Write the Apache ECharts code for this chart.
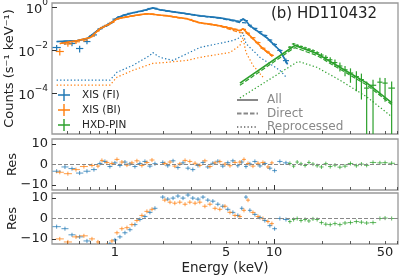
<!DOCTYPE html>
<html><head><meta charset="utf-8">
<script src="https://cdn.jsdelivr.net/npm/echarts@6/dist/echarts.min.js"></script>
<style>html,body{margin:0;padding:0;background:#fff}#c{width:399px;height:277px}</style>
</head><body><div id="c"></div>
<script>
// ---------------- DATA ----------------
// Models (keV, counts s^-1 keV^-1)
const fiModelE = [0.43,0.58,0.667,0.805,0.93,1.03,1.16,1.30,1.50,1.73,1.92,2.12,2.84,3.42,4.57,6.11,6.38,6.67,7.06,9.03,10.9,12.2];
const fiAll    = [0.0246,0.0274,0.0338,0.0974,0.165,0.312,0.43,0.53,0.66,0.90,0.73,0.655,0.48,0.386,0.312,0.204,0.28,0.227,0.134,0.0376,0.0095,0.00215];
const fiDirect = [0.0242,0.027,0.0333,0.096,0.164,0.308,0.425,0.52,0.65,0.88,0.72,0.645,0.47,0.375,0.30,0.185,0.185,0.18,0.125,0.0355,0.0092,0.0021];
const fiReprE  = [0.43,0.93,1.03,1.30,1.66,1.73,1.92,2.32,3.42,5.52,6.11,6.38,6.67,8.17,10.9,12.1];
const fiRepr   = [0.000396,0.000396,0.000925,0.00194,0.00559,0.00767,0.00452,0.00329,0.013,0.0274,0.0376,0.0638,0.0199,0.00452,0.00114,0.00049];

const biModelE = [0.45,0.58,0.70,0.805,0.93,1.03,1.30,1.59,2.12,2.84,3.42,4.57,6.11,6.38,6.67,7.06,8.53,9.71];
const biAll    = [0.0199,0.0274,0.0376,0.0974,0.165,0.28,0.386,0.48,0.386,0.28,0.184,0.134,0.0788,0.0974,0.071,0.0464,0.0117,0.00559];
const biDirect = [0.0197,0.0271,0.0372,0.096,0.163,0.276,0.38,0.472,0.38,0.275,0.179,0.127,0.063,0.063,0.062,0.044,0.011,0.0052];
const biReprE  = [0.43,0.93,1.03,1.30,1.73,2.12,2.84,3.42,5.29,6.11,6.38,6.67,7.38,8.53];
const biRepr   = [0.000235,0.000235,0.000544,0.00114,0.00239,0.00266,0.00329,0.00452,0.00767,0.0161,0.0376,0.00767,0.00194,0.000544];

const pinModelE = [6.11,12.97,13.55,18.6,26.0,38.5,55.2];
const pinAll    = [0.000288,0.0130,0.0161,0.0069,0.00157,0.000288,3.47e-5];
const pinDirect = [0.00023,0.0105,0.0128,0.0056,0.00128,0.000235,2.85e-5];
const pinReprE  = [6.11,14.2,18.6,26.0,38.5,55.2];
const pinRepr   = [5.89e-5,0.00296,0.00157,0.000396,6.55e-5,7.88e-6];

// Data points: XIS (FI)
const fiE      = [0.43,0.485,0.537,0.60,0.667,0.738, 0.805,0.865,0.93,1.0,1.075,1.156,1.243,1.336,1.436,1.544,1.66,1.785, 2.0,2.15,2.32,2.49,2.68,2.88,3.09,3.33,3.58,3.84,4.13,4.44,4.77,5.13,5.52,5.93, 6.28,6.67,7.06, 7.59,8.17,8.77,9.43,10.1,10.9,11.9];
const fiCounts = [0.013,0.022,0.020,0.0117,0.0246,0.05, 0.095,0.125,0.17,0.27,0.35,0.42,0.50,0.55,0.62,0.70,0.84,0.86, 0.70,0.64,0.60,0.55,0.51,0.47,0.44,0.40,0.37,0.35,0.33,0.31,0.29,0.265,0.24,0.215, 0.25,0.23,0.14, 0.10,0.07,0.047,0.029,0.018,0.0095,0.0032];
const fiErr    = [0.004,0.005,0.005,0.004,0.006,0.009, 0.008,0.009,0.011,0.014,0.016,0.018,0.02,0.021,0.022,0.024,0.027,0.028, 0.024,0.022,0.021,0.02,0.019,0.018,0.017,0.016,0.015,0.014,0.014,0.013,0.012,0.012,0.011,0.011,0.012,0.012,0.009,0.007,0.006,0.005,0.0035,0.0025,0.0015,0.0008];
const fiRes1   = [-3.3,-1.2,-2.0,-4.2,-3.3,-2.5, 0.5,1.5,-1.0,0.8,-0.5,1.2,0.3,-1.0,0.5,1.5,-0.8,0.4, 1.0,-0.6,1.8,-1.5,0.8,-1.8,-2.5,-0.5,1.0,-1.2,0.6,1.6,-0.8,0.9,1.8,-0.6,1.2,-1.0,0.3,1.5,-0.7,0.5,-1.8,-3.0,1.5,0.8];
const fiRes2   = [-4,-5,-8,-9,-11,-14, -15,-14,-12.5,-10.5,-9,-7,-5.5,-3,-0.5,1,3,5, 10.5,9.5,10,11,10,11.5,10,9.5,10.5,9,8.5,7,6,4.5,3,1.5, 5,10.5,4, 2,0.5,-1,-3.5,-5,0,-0.5];

// Data points: XIS (BI)
const biE      = [0.45,0.506,0.569,0.638,0.717,0.782, 0.828,0.89,0.957,1.03,1.106,1.19,1.279,1.375,1.478,1.589,1.71, 2.06,2.22,2.38,2.56,2.76,2.96,3.19,3.42,3.68,3.96,4.26,4.57,4.92,5.29,5.69, 6.11,6.48,6.87, 7.38,7.94,8.53,9.17,9.71];
const biCounts = [0.0085,0.019,0.024,0.029,0.045,0.078, 0.11,0.14,0.19,0.27,0.32,0.35,0.38,0.41,0.45,0.48,0.47, 0.40,0.37,0.34,0.31,0.29,0.26,0.21,0.185,0.17,0.16,0.145,0.134,0.12,0.105,0.092, 0.08,0.09,0.06, 0.037,0.022,0.012,0.008,0.0056];
const biErr    = [0.003,0.005,0.005,0.005,0.007,0.01, 0.01,0.011,0.013,0.015,0.016,0.017,0.017,0.018,0.019,0.02,0.02, 0.018,0.017,0.016,0.015,0.014,0.013,0.011,0.01,0.0095,0.009,0.0085,0.008,0.0075,0.007,0.0065, 0.006,0.0065,0.005, 0.0035,0.0025,0.0015,0.0012,0.0009];
const biRes1   = [-3.8,-4.5,-2.5,-1.0,-0.5,-0.8, 2.0,1.0,0.5,2.5,1.2,-0.3,0.8,1.8,-0.5,1.0,2.2, 0.5,1.2,-0.8,0.3,2.0,1.5,0.6,-0.4,1.8,-1.0,0.8,1.4,0.2,-0.6,1.0, 1.2,2.5,0.5, -0.8,0.6,1.0,-1.2,0.8];
const biRes2   = [-10,-11.5,-9,-8.5,-10,-11.5, -14,-13,-11,-7,-5,-4.5,-3,-1,1.5,3.5,4.5, 9,8,7.5,8,7,8,7.5,8,6,7,5,4.5,6,3,1.5, 1,4,9, 3,1,0,-1.5,-2.5];

// Data points: HXD-PIN
const pinE      = [12.6,13.3,14.0,14.8,15.7,16.6,17.6,18.7,19.9,21.2,22.6,24.2,26.0,28.0,30.3,33.0,35.5,38.3,42.0,46.4,50.0,55.0];
const pinCounts = [0.0135,0.019,0.0165,0.0145,0.0125,0.0108,0.0092,0.0074,0.0058,0.0045,0.0035,0.0026,0.0018,0.0012,0.00085,0.00058,0.00042,0.00017,0.00023,0.00032,0.00029,0.00017];
const pinLo     = [0.0118,0.0170,0.0148,0.0128,0.0108,0.0092,0.0077,0.006,0.0045,0.0033,0.0024,0.0016,0.001,0.0006,0.0003,0.00012,0.00005,0,0,0.00008,0.00004,0];
const pinHi     = [0.0152,0.021,0.0182,0.0162,0.0142,0.0124,0.0107,0.0088,0.0071,0.0057,0.0046,0.0036,0.0026,0.0018,0.0014,0.00104,0.0008,0.00034,0.00042,0.00052,0.00050,0.00034];
const pinRes1   = [0.5,-0.8,1.2,0.3,-0.5,1.0,0.2,-0.6,-1.2,0.4,-1.0,-0.3,-1.3,-0.8,0.5,-0.6,0.2,-0.4,1.0,0.8,0.9,0.6];
const pinRes2   = [-1.5,-0.5,0,-1,-0.5,-1.2,-0.2,-0.5,-2,-2.8,-3,-2.5,-3,-2.2,-2,-1.5,-1.8,-2.2,-2,0,0.2,0];

// Axis ticks
const xMajorTicks = [1, 10];
const xMinorTicks = [0.5,0.6,0.7,0.8,0.9,2,3,4,5,6,7,8,9,20,30,40,50,60];
const xTickLabels = [1, 5, 10, 50];
const yTopTicks = [1e-4, 1e-2, 1];
const resTicks = [-10, 0, 10];

// ---------------- CHART ----------------
const L = v => Math.log10(v);
const FONT = 'DejaVu Sans';
const C_FI = '#1f77b4', C_BI = '#ff7f0e', C_PIN = '#2ca02c';
const X_MIN = L(0.402), X_MAX = L(60.3);
const Y_MIN = -5.9, Y_MAX = 0.18;

function binHalf(E, i) {
  const dl = i > 0 ? L(E[i]) - L(E[i-1]) : Infinity;
  const dr = i < E.length-1 ? L(E[i+1]) - L(E[i]) : Infinity;
  return Math.min(dl, dr) / 2;
}
function logSafe(v){ return v > 0 ? L(v) : -12; }

function topPoints(E, cts, lo, hi) {
  return E.map((e, i) => [L(e), L(cts[i]), L(e) - binHalf(E,i), L(e) + binHalf(E,i), logSafe(lo[i]), logSafe(hi[i])]);
}
function resPoints(E, res) {
  return E.map((e, i) => [L(e), res[i], L(e) - binHalf(E,i), L(e) + binHalf(E,i), res[i] - 1, res[i] + 1]);
}
const fiLo = fiCounts.map((c,i)=>c-fiErr[i]), fiHi = fiCounts.map((c,i)=>c+fiErr[i]);
const biLo = biCounts.map((c,i)=>c-biErr[i]), biHi = biCounts.map((c,i)=>c+biErr[i]);

function crossItem(lw, op) {
  return function(params, api) {
    const l = api.coord([api.value(2), api.value(1)]);
    const r = api.coord([api.value(3), api.value(1)]);
    const b = api.coord([api.value(0), api.value(4)]);
    const t = api.coord([api.value(0), api.value(5)]);
    const style = { stroke: api.visual('color'), lineWidth: lw, opacity: op };
    return { type: 'group', children: [
      { type: 'line', shape: { x1: l[0], y1: l[1], x2: r[0], y2: r[1] }, style },
      { type: 'line', shape: { x1: b[0], y1: b[1], x2: t[0], y2: t[1] }, style }
    ]};
  };
}

function pts(E, V) { return E.map((e,i)=>[L(e), L(V[i])]); }

function modelLine(name, E, V, color, type, width, z) {
  return { name, type: 'line', xAxisIndex: 0, yAxisIndex: 0, data: pts(E, V), symbol: 'none',
           lineStyle: { color, width, type }, itemStyle: { color }, z, silent: true, clip: true };
}
function crossSeries(name, data, color, grid, lw, op, z) {
  return { name, type: 'custom', xAxisIndex: grid*2, yAxisIndex: grid, data, clip: true,
           itemStyle: { color }, renderItem: crossItem(lw, op), z, silent: true };
}

const DOT = [1.3, 2.2], DASH = [4.5, 2];

const xAxes = [];
for (let g = 0; g < 3; g++) {
  xAxes.push({
    gridIndex: g, type: 'value', min: X_MIN, max: X_MAX, position: 'bottom',
    axisLine: { show: false, onZero: false }, splitLine: { show: false },
    axisTick: { show: true, inside: true, length: 5, lineStyle: { color: '#333', width: 1 }, customValues: xMajorTicks.map(L) },
    axisLabel: { show: g === 2, customValues: xTickLabels.map(L), margin: 2, color: '#222', fontSize: 13, fontFamily: FONT,
                 formatter: v => String(Math.round(Math.pow(10, v))) },
    name: g === 2 ? 'Energy (keV)' : '', nameLocation: 'middle', nameGap: 17, nameMoveOverlap: false,
    nameTextStyle: { fontSize: 13.5, color: '#222', fontFamily: FONT }
  });
  xAxes.push({
    gridIndex: g, type: 'value', min: X_MIN, max: X_MAX, position: 'bottom',
    axisLine: { show: false, onZero: false }, splitLine: { show: false }, axisLabel: { show: false },
    axisTick: { show: true, inside: true, length: 3, lineStyle: { color: '#333', width: 0.8 }, customValues: xMinorTicks.map(L) }
  });
}

const supMap = { '0': '0', '-2': '−2', '-4': '−4' };
const yAxes = [
  { gridIndex: 0, type: 'value', min: Y_MIN, max: Y_MAX, position: 'left',
    axisLine: { show: false, onZero: false }, splitLine: { show: false },
    axisTick: { show: true, inside: true, length: 5, lineStyle: { color: '#333' }, customValues: yTopTicks.map(L) },
    axisLabel: { customValues: yTopTicks.map(L), margin: 4,
      formatter: v => '{b|10}{s|' + supMap[String(Math.round(v))] + '}',
      rich: { b: { fontSize: 13, color: '#222', fontFamily: FONT, verticalAlign: 'bottom', lineHeight: 18 },
              s: { fontSize: 9, color: '#222', fontFamily: FONT, verticalAlign: 'top', lineHeight: 18 } } },
    name: 'Counts (s⁻¹ keV⁻¹)', nameLocation: 'middle', nameGap: 36, nameMoveOverlap: false,
    nameTextStyle: { fontSize: 13, color: '#222', fontFamily: FONT } },
];
for (let g = 1; g < 3; g++) {
  yAxes.push({ gridIndex: g, type: 'value', min: -12.5, max: 12.5, position: 'left',
    axisLine: { show: false, onZero: false }, splitLine: { show: false },
    axisTick: { show: true, inside: true, length: 4, lineStyle: { color: '#333' }, customValues: resTicks },
    axisLabel: { customValues: resTicks, margin: 4, color: '#222', fontSize: 13, fontFamily: FONT,
      formatter: v => v < 0 ? '−' + Math.abs(v) : String(v) },
    name: 'Res', nameLocation: 'middle', nameGap: 33, nameMoveOverlap: false,
    nameTextStyle: { fontSize: 13, color: '#222', fontFamily: FONT } });
}

const gridBase = { left: 52, width: 346, show: true, borderColor: '#999', borderWidth: 1.3,
                   backgroundColor: 'transparent', containLabel: false, outerBoundsMode: 'none' };
const PLUS = 'path://M5.3,0h1.4v5.3h5.3v1.4h-5.3v5.3h-1.4v-5.3h-5.3v-1.4h5.3z';
const HIDE = { color: 'rgba(0,0,0,0)', borderColor: 'rgba(0,0,0,0)', borderWidth: 0 };

const series = [
  // reprocessed (dotted)
  modelLine('fiRepr', fiReprE, fiRepr, C_FI, DOT, 1.2, 2),
  modelLine('biRepr', biReprE, biRepr, C_BI, DOT, 1.2, 2),
  modelLine('pinRepr', pinReprE, pinRepr, C_PIN, DOT, 1.2, 2),
  // direct (dashed)
  modelLine('fiDirect', fiModelE, fiDirect, C_FI, DASH, 1.2, 3),
  modelLine('biDirect', biModelE, biDirect, C_BI, DASH, 1.2, 3),
  modelLine('pinDirect', pinModelE, pinDirect, C_PIN, DASH, 1.2, 3),
  // data
  crossSeries('XIS (FI)', topPoints(fiE, fiCounts, fiLo, fiHi), C_FI, 0, 1.2, 1, 4),
  crossSeries('XIS (BI)', topPoints(biE, biCounts, biLo, biHi), C_BI, 0, 1.2, 1, 4),
  crossSeries('HXD-PIN', topPoints(pinE, pinCounts, pinLo, pinHi), C_PIN, 0, 1.2, 1, 4),
  // all (solid)
  modelLine('fiAll', fiModelE, fiAll, C_FI, 'solid', 1.6, 5),
  modelLine('biAll', biModelE, biAll, C_BI, 'solid', 1.6, 5),
  modelLine('pinAll', pinModelE, pinAll, C_PIN, 'solid', 1.6, 5),
  // legend entries for line styles
  { name: 'All', type: 'line', xAxisIndex: 0, yAxisIndex: 0, data: [], symbol: 'none', itemStyle: HIDE, lineStyle: { color: '#888', width: 1.3, type: 'solid' } },
  { name: 'Direct', type: 'line', xAxisIndex: 0, yAxisIndex: 0, data: [], symbol: 'none', itemStyle: HIDE, lineStyle: { color: '#888', width: 1.3, type: DASH } },
  { name: 'Reprocessed', type: 'line', xAxisIndex: 0, yAxisIndex: 0, data: [], symbol: 'none', itemStyle: HIDE, lineStyle: { color: '#888', width: 1.3, type: DOT } },
];
for (let g = 1; g < 3; g++) {
  series.push({ name: 'zero' + g, type: 'line', xAxisIndex: g*2, yAxisIndex: g, data: [], symbol: 'none', silent: true,
    markLine: { symbol: 'none', silent: true, label: { show: false }, animation: false,
      lineStyle: { type: [4, 2], color: '#888', width: 1.2 }, data: [{ yAxis: 0 }] } });
  series.push(crossSeries('XIS (FI)', resPoints(fiE, g === 1 ? fiRes1 : fiRes2), C_FI, g, 1, 0.75, 4));
  series.push(crossSeries('XIS (BI)', resPoints(biE, g === 1 ? biRes1 : biRes2), C_BI, g, 1, 0.75, 4));
  series.push(crossSeries('HXD-PIN', resPoints(pinE, g === 1 ? pinRes1 : pinRes2), C_PIN, g, 1, 0.75, 4));
}

const option = {
  animation: false,
  backgroundColor: '#fff',
  title: { text: '(b) HD110432', left: 266, top: 2,
           textStyle: { fontSize: 15, fontWeight: 'normal', color: '#222', fontFamily: FONT } },
  grid: [
    Object.assign({ top: 3, height: 131 }, gridBase),
    Object.assign({ top: 139, height: 51 }, gridBase),
    Object.assign({ top: 193, height: 51 }, gridBase)
  ],
  legend: [
    { data: [{ name: 'XIS (FI)', icon: PLUS }, { name: 'XIS (BI)', icon: PLUS }, { name: 'HXD-PIN', icon: PLUS }],
      orient: 'vertical', left: 58, top: 89, padding: 0, itemWidth: 22, itemHeight: 12, itemGap: 3,
      selectedMode: false, textStyle: { fontSize: 10.5, color: '#222', fontFamily: FONT, padding: [0, 0, 0, 2] } },
    { data: ['All', 'Direct', 'Reprocessed'], orient: 'vertical', left: 236, top: 94, padding: 0,
      itemWidth: 21, itemHeight: 10, itemGap: 1.5, selectedMode: false, itemStyle: HIDE,
      textStyle: { fontSize: 12, color: '#888', fontFamily: FONT, lineHeight: 10, padding: [0, 0, 0, 4] } }
  ],
  xAxis: xAxes,
  yAxis: yAxes,
  series
};
const chart = echarts.init(document.getElementById('c'), null, { renderer: 'canvas' });
chart.setOption(option);
</script></body></html>
